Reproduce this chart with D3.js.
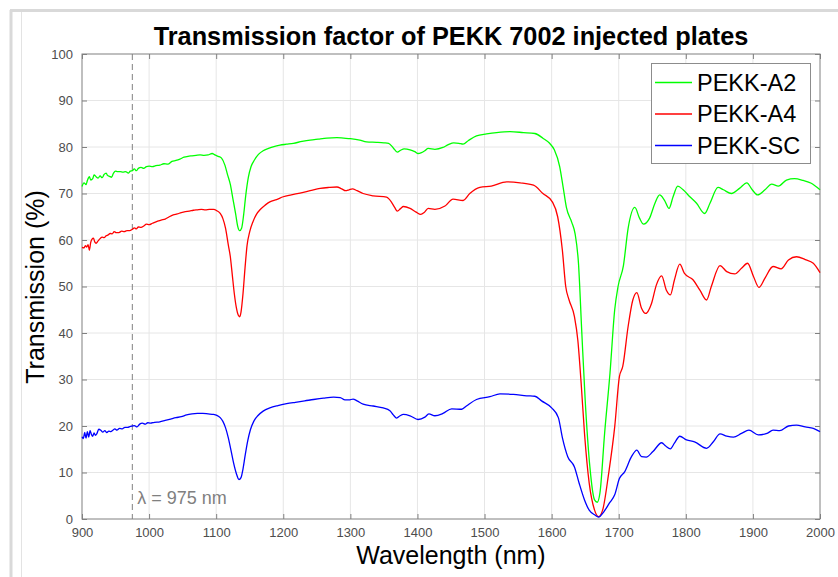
<!DOCTYPE html>
<html>
<head>
<meta charset="utf-8">
<script src="https://cdn.jsdelivr.net/npm/d3@7"></script>
<style>
  body { margin: 0; background: #fff; }
  svg { display: block; font-family: "Liberation Sans", Arial, sans-serif; }
</style>
</head>
<body>
<svg id="chart" width="838" height="577"></svg>
<script>
/* Transmission factor of PEKK 7002 injected plates */

// [wavelength nm, transmission %]
const pekkA2 = [
  [900,71.5],[903,72.3],[906,71.9],[908,72.8],[911,73.6],[913,72.9],[916,73.2],[918,74.0],[921,73.6],[924,73.3],
  [927,73.8],[930,73.4],[933,74.1],[936,74.4],[938,73.9],[941,73.7],[944,73.5],[947,74.4],[950,74.8],[953,74.7],
  [957,74.7],[961,74.6],[965,74.7],[969,74.4],[972,74.8],[975,74.9],[978,75.3],[981,74.9],[984,75.4],[988,75.6],
  [992,75.4],[996,75.8],[1000,75.9],[1005,75.8],[1010,76.0],[1016,76.1],[1022,76.4],[1028,76.3],[1034,76.9],
  [1040,77.1],[1046,77.4],[1052,77.8],[1058,78.0],[1064,78.1],[1070,78.2],[1076,78.3],[1082,78.2],[1088,78.3],
  [1094,78.6],[1098,78.3],[1103,78.0],[1108,77.6],[1113,76.1],[1117,74.0],[1121,72.0],[1125,68.8],[1129,65.6],
  [1132,63.0],[1135,62.0],[1138,62.6],[1141,65.5],[1144,69.5],[1148,73.5],[1152,75.8],[1157,77.2],[1163,78.4],
  [1170,79.2],[1178,79.7],[1186,80.1],[1195,80.4],[1205,80.6],[1215,80.8],[1228,81.2],[1240,81.5],[1252,81.7],
  [1265,81.9],[1280,82.0],[1290,81.9],[1300,81.8],[1314,81.5],[1324,81.1],[1339,81.0],[1350,80.9],[1357,80.8],
  [1364,79.8],[1370,78.9],[1375,79.3],[1380,79.6],[1389,79.4],[1396,79.0],[1401,78.6],[1406,78.8],[1411,79.2],
  [1416,79.7],[1426,79.5],[1438,79.9],[1446,80.5],[1454,80.9],[1462,80.8],[1468,80.6],[1476,81.4],[1488,82.4],
  [1503,82.8],[1518,83.1],[1538,83.3],[1558,83.1],[1575,82.9],[1587,81.9],[1597,80.8],[1604,79.4],[1612,75.8],
  [1617,71.5],[1622,67.0],[1630,63.8],[1635,61.3],[1640,55.0],[1645,40.0],[1650,25.6],[1657,11.2],[1664,4.1],
  [1668,3.6],[1672,5.6],[1679,18.5],[1687,31.4],[1694,45.0],[1699,50.0],[1707,54.5],[1714,62.5],[1724,67.0],
  [1731,64.7],[1737,63.4],[1746,64.7],[1754,67.9],[1761,69.7],[1768,68.6],[1775,66.8],[1781,69.3],[1788,71.6],
  [1796,70.8],[1806,69.3],[1816,67.9],[1828,65.7],[1836,67.9],[1848,71.3],[1856,70.8],[1868,70.0],[1880,71.1],
  [1891,72.3],[1899,70.8],[1907,69.7],[1918,70.8],[1928,72.0],[1938,71.6],[1950,72.9],[1962,73.2],[1975,72.8],
  [1987,72.2],[2000,70.8]
];

const pekkA4 = [
  [900,58.4],[903,58.3],[905,58.8],[907,58.5],[909,59.0],[911,57.8],[913,59.5],[915,60.2],[917,60.4],[919,59.6],
  [921,59.3],[924,59.8],[927,60.3],[930,60.6],[933,60.5],[936,60.9],[939,61.1],[942,61.4],[945,61.3],[948,61.8],
  [951,61.6],[955,61.6],[959,61.9],[963,61.8],[967,62.0],[971,62.0],[975,62.3],[978,62.6],[981,62.4],[984,62.8],
  [988,62.7],[992,63.0],[996,63.4],[1000,63.3],[1005,63.6],[1012,64.0],[1018,64.3],[1024,64.5],[1030,65.0],
  [1036,65.4],[1042,65.6],[1048,65.9],[1054,66.1],[1060,66.2],[1066,66.4],[1072,66.5],[1078,66.6],[1084,66.5],
  [1090,66.6],[1096,66.6],[1101,66.3],[1106,65.7],[1110,64.6],[1114,62.5],[1118,59.0],[1121,56.5],[1124,52.5],
  [1127,48.5],[1130,45.5],[1133,43.8],[1135,43.5],[1137,44.5],[1140,48.5],[1143,54.0],[1146,58.8],[1150,61.8],
  [1155,64.0],[1160,65.5],[1166,66.6],[1173,67.5],[1180,68.2],[1190,68.7],[1200,69.3],[1212,69.7],[1225,70.1],
  [1240,70.6],[1255,71.1],[1268,71.3],[1280,71.4],[1287,71.0],[1293,70.6],[1298,70.8],[1303,71.0],[1310,70.6],
  [1319,70.0],[1334,69.5],[1354,69.2],[1361,68.2],[1366,67.0],[1370,66.2],[1375,66.8],[1379,67.2],[1389,66.8],
  [1398,66.0],[1405,65.5],[1410,65.9],[1416,66.8],[1426,66.6],[1441,67.3],[1453,68.8],[1468,68.5],[1478,70.0],
  [1493,71.3],[1510,71.6],[1533,72.5],[1553,72.3],[1573,71.8],[1587,70.0],[1601,68.2],[1609,65.0],[1616,57.8],
  [1621,50.0],[1626,47.1],[1634,43.5],[1639,38.5],[1644,29.2],[1649,18.4],[1656,7.7],[1664,1.9],[1670,0.5],
  [1676,1.9],[1685,9.8],[1694,19.8],[1701,30.6],[1706,32.8],[1714,41.4],[1721,47.1],[1727,48.7],[1734,45.3],
  [1740,44.2],[1749,46.4],[1756,50.3],[1764,52.3],[1771,49.2],[1777,48.2],[1783,51.4],[1791,54.8],[1798,52.8],
  [1811,51.4],[1821,49.2],[1831,47.1],[1838,50.0],[1851,54.5],[1861,53.2],[1873,52.7],[1883,53.9],[1892,55.0],
  [1901,52.1],[1909,49.8],[1918,51.8],[1930,54.3],[1942,53.8],[1953,55.7],[1965,56.4],[1978,55.8],[1990,55.0],
  [2000,53.0]
];

const pekkSC = [
  [900,17.7],[902,17.3],[904,18.6],[906,17.4],[908,18.8],[910,17.6],[912,19.0],[914,18.2],[916,17.8],[918,18.5],
  [920,18.0],[922,18.3],[925,19.3],[928,19.1],[931,18.7],[934,19.0],[937,18.6],[940,18.9],[943,18.8],[946,19.1],
  [949,19.4],[952,19.1],[956,19.5],[960,19.4],[964,19.7],[968,19.7],[972,19.9],[975,20.0],[978,20.1],[982,19.8],
  [986,20.4],[990,20.6],[994,20.4],[998,20.7],[1002,20.6],[1008,20.8],[1016,20.9],[1024,21.2],[1032,21.5],
  [1040,21.8],[1048,22.0],[1056,22.4],[1064,22.6],[1072,22.7],[1080,22.7],[1088,22.6],[1096,22.5],[1101,22.3],
  [1106,21.8],[1110,21.0],[1114,19.6],[1118,17.5],[1122,14.8],[1126,12.0],[1130,9.8],[1134,8.5],[1137,8.9],
  [1140,10.8],[1143,13.5],[1147,16.8],[1151,19.2],[1156,21.0],[1162,22.2],[1170,23.2],[1180,23.9],[1192,24.4],
  [1205,24.8],[1218,25.1],[1232,25.4],[1245,25.7],[1260,26.0],[1275,26.2],[1285,26.1],[1292,25.6],[1298,25.6],
  [1304,25.8],[1310,25.4],[1319,24.7],[1334,24.3],[1349,23.9],[1359,23.3],[1364,22.4],[1369,21.7],[1374,22.2],
  [1379,22.5],[1389,22.2],[1401,21.4],[1411,21.9],[1417,22.6],[1426,22.2],[1438,22.7],[1451,23.7],[1466,23.6],
  [1473,24.3],[1488,25.7],[1508,26.3],[1523,26.9],[1543,26.8],[1563,26.5],[1575,26.4],[1585,25.4],[1600,23.9],
  [1610,21.8],[1616,17.5],[1624,13.4],[1634,11.2],[1641,7.7],[1649,4.1],[1656,1.9],[1664,0.9],[1670,0.4],
  [1678,1.6],[1686,3.4],[1694,5.2],[1701,8.7],[1709,10.2],[1719,13.4],[1727,14.8],[1734,13.4],[1741,13.3],
  [1751,14.5],[1764,16.4],[1770,15.7],[1777,15.1],[1783,16.3],[1791,17.8],[1801,17.0],[1813,16.6],[1831,15.2],
  [1841,16.6],[1851,18.3],[1861,17.8],[1871,17.6],[1883,18.4],[1894,19.1],[1908,18.1],[1921,18.4],[1930,19.1],
  [1940,19.0],[1953,20.0],[1965,20.2],[1978,19.8],[1990,19.5],[2000,18.8]
];

const seriesNames = ['PEKK-A2', 'PEKK-A4', 'PEKK-SC'];
const seriesColors = ['#00ff00', '#ff0000', '#0000ff'];
const xTicks = [900, 1000, 1100, 1200, 1300, 1400, 1500, 1600, 1700, 1800, 1900, 2000];
const yTicks = [0, 10, 20, 30, 40, 50, 60, 70, 80, 90, 100];
const markerWl = 975;

const W = 838, H = 577;
const margin = { top: 54, right: 18, bottom: 58, left: 82 };
const iw = W - margin.left - margin.right;
const ih = H - margin.top - margin.bottom;

const svg = d3.select('#chart');

// window frame remnants
svg.append('line').attr('x1', 10).attr('x2', W).attr('y1', 10.5).attr('y2', 10.5)
  .attr('stroke', '#d9d9d9').attr('stroke-width', 3);
svg.append('line').attr('x1', 11).attr('x2', 11).attr('y1', 10).attr('y2', H)
  .attr('stroke', '#d9d9d9').attr('stroke-width', 3);
svg.append('line').attr('x1', 21.5).attr('x2', 21.5).attr('y1', 12).attr('y2', H)
  .attr('stroke', '#e3e3e3').attr('stroke-width', 1);

const x = d3.scaleLinear().domain([900, 2000]).range([0, iw]);
const y = d3.scaleLinear().domain([0, 100]).range([ih, 0]);

const g = svg.append('g').attr('transform', `translate(${margin.left},${margin.top})`);

// grid
g.append('g').selectAll('line').data(xTicks.slice(1, -1)).join('line')
  .attr('x1', d => x(d)).attr('x2', d => x(d)).attr('y1', 0).attr('y2', ih)
  .attr('stroke', '#e6e6e6').attr('stroke-width', 1);
g.append('g').selectAll('line').data(yTicks.slice(1, -1)).join('line')
  .attr('y1', d => y(d)).attr('y2', d => y(d)).attr('x1', 0).attr('x2', iw)
  .attr('stroke', '#e6e6e6').attr('stroke-width', 1);

// axes, ticks pointing inward on all four sides
const tickColor = '#808080';
const styleAxis = sel => {
  sel.select('.domain').remove();
  sel.selectAll('.tick line').attr('stroke', tickColor);
  sel.selectAll('.tick text').attr('fill', '#4d4d4d').style('font-size', '13px')
    .style('font-family', '"Liberation Sans", Arial, sans-serif');
};
g.append('g').attr('transform', `translate(0,${ih})`)
  .call(d3.axisBottom(x).tickValues(xTicks).tickFormat(d3.format('d')).tickSizeInner(-5).tickPadding(9))
  .call(styleAxis);
g.append('g')
  .call(d3.axisTop(x).tickValues(xTicks).tickFormat('').tickSizeInner(-5))
  .call(styleAxis);
g.append('g')
  .call(d3.axisLeft(y).tickValues(yTicks).tickSizeInner(-5).tickPadding(9))
  .call(styleAxis);
g.append('g').attr('transform', `translate(${iw},0)`)
  .call(d3.axisRight(y).tickValues(yTicks).tickFormat('').tickSizeInner(-5))
  .call(styleAxis);

g.append('rect').attr('x', 0).attr('y', 0).attr('width', iw).attr('height', ih)
  .attr('fill', 'none').attr('stroke', tickColor).attr('stroke-width', 1);

// lambda marker
g.append('line').attr('x1', x(markerWl)).attr('x2', x(markerWl)).attr('y1', 0).attr('y2', ih)
  .attr('stroke', '#808080').attr('stroke-width', 1).attr('stroke-dasharray', '6,4');
g.append('text').attr('x', x(markerWl) + 5).attr('y', y(3.2))
  .attr('fill', '#808080').style('font-size', '18px')
  .text(`λ = ${markerWl} nm`);

// curves
const line = d3.line().x(d => x(d[0])).y(d => y(d[1])).curve(d3.curveMonotoneX);
[pekkA2, pekkA4, pekkSC].forEach((data, i) => {
  g.append('path').datum(data)
    .attr('fill', 'none').attr('stroke', seriesColors[i]).attr('stroke-width', 1.3)
    .attr('stroke-linejoin', 'round').attr('d', line);
});

// legend
const legend = svg.append('g').attr('transform', 'translate(651,63)');
legend.append('rect').attr('x', 0.5).attr('y', 0.5).attr('width', 159).attr('height', 100)
  .attr('fill', '#fff').attr('stroke', '#8c8c8c').attr('stroke-width', 1);
seriesNames.forEach((name, i) => {
  const cy = 19.5 + i * 31.5;
  legend.append('line').attr('x1', 4).attr('x2', 41).attr('y1', cy).attr('y2', cy)
    .attr('stroke', seriesColors[i]).attr('stroke-width', 1.3);
  legend.append('text').attr('x', 46).attr('y', cy).attr('dy', '0.35em')
    .style('font-size', '23.5px').attr('fill', '#000').text(name);
});

// title and axis labels
svg.append('text').attr('x', 451).attr('y', 45).attr('text-anchor', 'middle')
  .style('font-size', '25.3px').style('font-weight', 'bold').attr('fill', '#000')
  .text('Transmission factor of PEKK 7002 injected plates');
svg.append('text').attr('x', 451).attr('y', 564).attr('text-anchor', 'middle')
  .style('font-size', '25px').attr('fill', '#000').text('Wavelength (nm)');
svg.append('text').attr('transform', 'translate(44,287) rotate(-90)').attr('text-anchor', 'middle')
  .style('font-size', '25px').attr('fill', '#000').text('Transmission (%)');
</script>
</body>
</html>
